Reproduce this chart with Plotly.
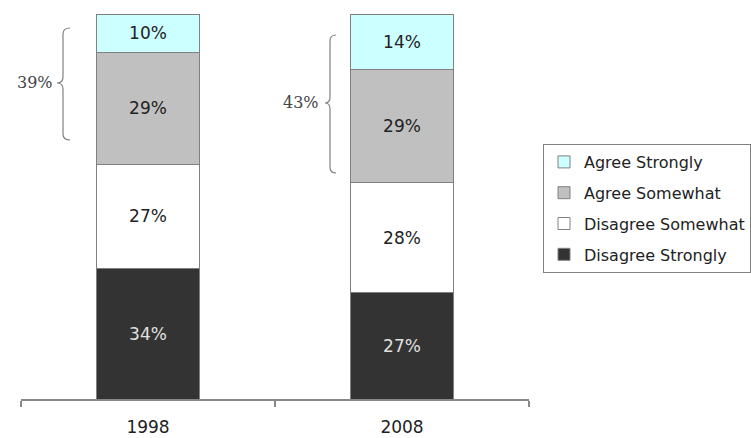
import plotly.graph_objects as go

years = ["1998", "2008"]
series_names = ["Disagree Strongly", "Disagree Somewhat", "Agree Somewhat", "Agree Strongly"]
disagree_strongly = [34, 27]
disagree_somewhat = [27, 28]
agree_somewhat = [29, 29]
agree_strongly = [10, 14]
agree_totals = ["39%", "43%"]

values = [disagree_strongly, disagree_somewhat, agree_somewhat, agree_strongly]
colors = ["#333333", "#FFFFFF", "#C0C0C0", "#CCFFFF"]
text_colors = ["#E0E0E0", "#222222", "#222222", "#222222"]
legend_ranks = [4, 3, 2, 1]

W, H = 751, 438
ML, MR, MT, MB = 21, 222, 14, 39
PW, PH = W - ML - MR, H - MT - MB

def px_x(p):
    return (p - ML) / PW

def px_y(p):
    return (H - MB - p) / PH

fig = go.Figure()
for name, vals, col, tcol, rk in zip(series_names, values, colors, text_colors, legend_ranks):
    fig.add_trace(go.Bar(
        x=years, y=vals, name=name,
        marker=dict(color=col, line=dict(color="#808080", width=1)),
        text=[f"{v}%" for v in vals], textposition="inside",
        insidetextanchor="middle", textangle=0,
        textfont=dict(family="DejaVu Sans", size=17, color=tcol),
        constraintext="none", hoverinfo="skip",
        legendgroup=name, legendrank=rk,
    ))

def brace(xe, xl, xt, yt, ym, yb):
    r = 6
    pts = [
        f"M {px_x(xe)},{px_y(yt)}",
        f"Q {px_x(xl)},{px_y(yt)} {px_x(xl)},{px_y(yt + r)}",
        f"L {px_x(xl)},{px_y(ym - r)}",
        f"Q {px_x(xl)},{px_y(ym)} {px_x(xt)},{px_y(ym)}",
        f"Q {px_x(xl)},{px_y(ym)} {px_x(xl)},{px_y(ym + r)}",
        f"L {px_x(xl)},{px_y(yb - r)}",
        f"Q {px_x(xl)},{px_y(yb)} {px_x(xe)},{px_y(yb)}",
    ]
    return " ".join(pts)

brace_px = [(70, 63, 57, 28, 83, 140), (336, 330, 325, 35, 103, 173)]
label_px = [(55, 83), (321, 103)]
for bp, (lx, ly), lab in zip(brace_px, label_px, agree_totals):
    fig.add_shape(type="path", path=brace(*bp), xref="paper", yref="paper",
                  line=dict(color="#808080", width=1.2))
    fig.add_annotation(x=px_x(lx), y=px_y(ly), xref="paper", yref="paper",
                       text=lab, showarrow=False, xanchor="right", yanchor="middle",
                       font=dict(family="DejaVu Serif", size=16, color="#444444"))

fig.update_layout(
    width=W, height=H,
    margin=dict(l=ML, r=MR, t=MT, b=MB, autoexpand=False),
    barmode="stack", barnorm="percent", bargap=0.595,
    plot_bgcolor="white", paper_bgcolor="white",
    showlegend=True,
    legend=dict(
        x=px_x(543), y=px_y(144), xanchor="left", yanchor="top",
        bordercolor="#808080", borderwidth=1,
        font=dict(family="DejaVu Sans", size=16, color="#222222"),
        traceorder="grouped", tracegroupgap=7,
        itemwidth=30,
    ),
    xaxis=dict(
        showline=True, linecolor="#888888", linewidth=1.5,
        ticks="outside", tickson="boundaries", ticklen=6, tickcolor="#888888", tickwidth=1.5,
        tickfont=dict(family="DejaVu Sans", size=17, color="#222222"),
        ticklabelstandoff=12,
        showgrid=False,
    ),
    yaxis=dict(range=[0, 100], visible=False, showgrid=False),
)

fig.write_html("out.html", config={"displayModeBar": False},
               post_script="document.body.style.margin='0';document.body.style.padding='0';document.body.style.overflow='hidden';")
